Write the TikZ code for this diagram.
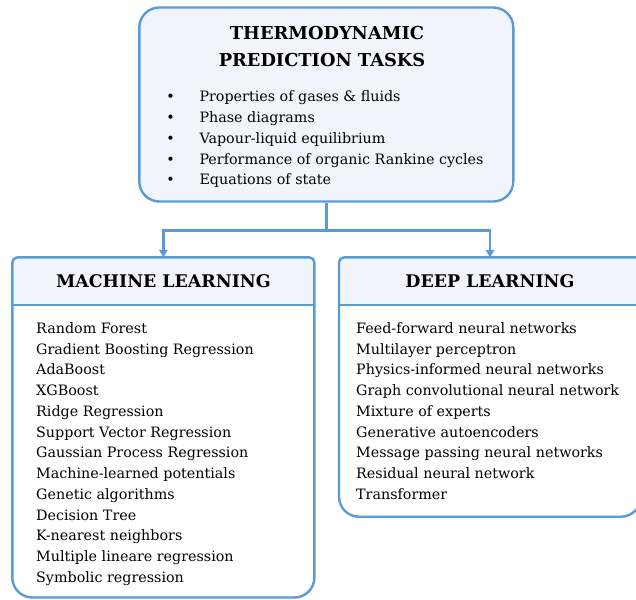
\documentclass[tikz,border=0pt]{standalone}
\usepackage{fontspec}
\setmainfont{DejaVu Serif}
\usetikzlibrary{arrows.meta,backgrounds}

\definecolor{edgeblue}{RGB}{91,155,213}
\definecolor{paleblue}{RGB}{240,245,251}

\tikzset{
  frame/.style={draw=edgeblue,line width=2.4pt},
  taskbox/.style={frame,fill=paleblue,rounded corners=20pt,minimum width=374pt,minimum height=194pt},
  heading/.style={font=\bfseries\fontsize{17.8}{20}\selectfont,inner sep=0pt},
  headbox/.style={heading,font=\bfseries\fontsize{17.4}{20}\selectfont,minimum width=302pt,minimum height=47.7pt,outer sep=0pt},
  item/.style={anchor=base west,inner sep=0pt,font=\fontsize{14.3}{17}\selectfont},
  link/.style={draw=edgeblue,line width=2.4pt},
  arrow/.style={link,-{Triangle[width=8.5pt,length=7.5pt]}}
}

\begin{document}
\begin{tikzpicture}[x=1pt,y=-1pt]
  \useasboundingbox (0,0) rectangle (636,599);

  % top box
  \node[taskbox] (tasks) at (326.3,104.5) {};
  \node[heading,anchor=base] (title1) at (327,39.3) {THERMODYNAMIC};
  \node[heading,anchor=base] (title2) at (322,66.7) {PREDICTION TASKS};
  \foreach \t [count=\i from 0] in {Properties of gases \& fluids, Phase diagrams,
      Vapour-liquid equilibrium, Performance of organic Rankine cycles, Equations of state}
    {\node[item,anchor=base] (dot\i) at (170.5,101.7+20.8*\i) {\textbullet};
     \node[item] (task\i) at (199.3,101.7+20.8*\i) {\t};}

  % the two panels
  \node[headbox] (ml) at (163.4,281.2) {MACHINE LEARNING};
  \node[headbox] (dl) at (490,281.2) {DEEP LEARNING};
  \begin{scope}[on background layer]
    \draw[frame,fill=white,rounded corners=20pt] (ml.south west) -- (12.3,597.5) -- (314.4,597.5) -- (ml.south east);
    \draw[frame,fill=paleblue,rounded corners=5pt] (ml.south west) |- (ml.north east) -- (ml.south east);
    \draw[frame,fill=white,rounded corners=20pt] (dl.south west) -- (339,516.7) -- (641,516.7) -- (dl.south east);
    \draw[frame,fill=paleblue,rounded corners=5pt] (dl.south west) |- (dl.north east) -- (dl.south east);
  \end{scope}
  \draw[frame] (ml.south west) -- (ml.south east);
  \draw[frame] (dl.south west) -- (dl.south east);

  \foreach \t [count=\i from 0] in {Random Forest, Gradient Boosting Regression, AdaBoost,
      XGBoost, Ridge Regression, Support Vector Regression, Gaussian Process Regression,
      Machine-learned potentials, Genetic algorithms, Decision Tree, K-nearest neighbors,
      Multiple lineare regression, Symbolic regression}
    \node[item] (mlitem\i) at (36,333.3+20.75*\i) {\t};
  \foreach \t [count=\i from 0] in {Feed-forward neural networks, Multilayer perceptron,
      Physics-informed neural networks, Graph convolutional neural network, Mixture of experts,
      Generative autoencoders, Message passing neural networks, Residual neural network, Transformer}
    \node[item] (dlitem\i) at (356,333.3+20.75*\i) {\t};

  % connectors
  \draw[link] (tasks.south) -- ++(0,27.6) coordinate (split);
  \draw[arrow] (split) -| (ml.north);
  \draw[arrow] (split) -| (dl.north);
\end{tikzpicture}
\end{document}
